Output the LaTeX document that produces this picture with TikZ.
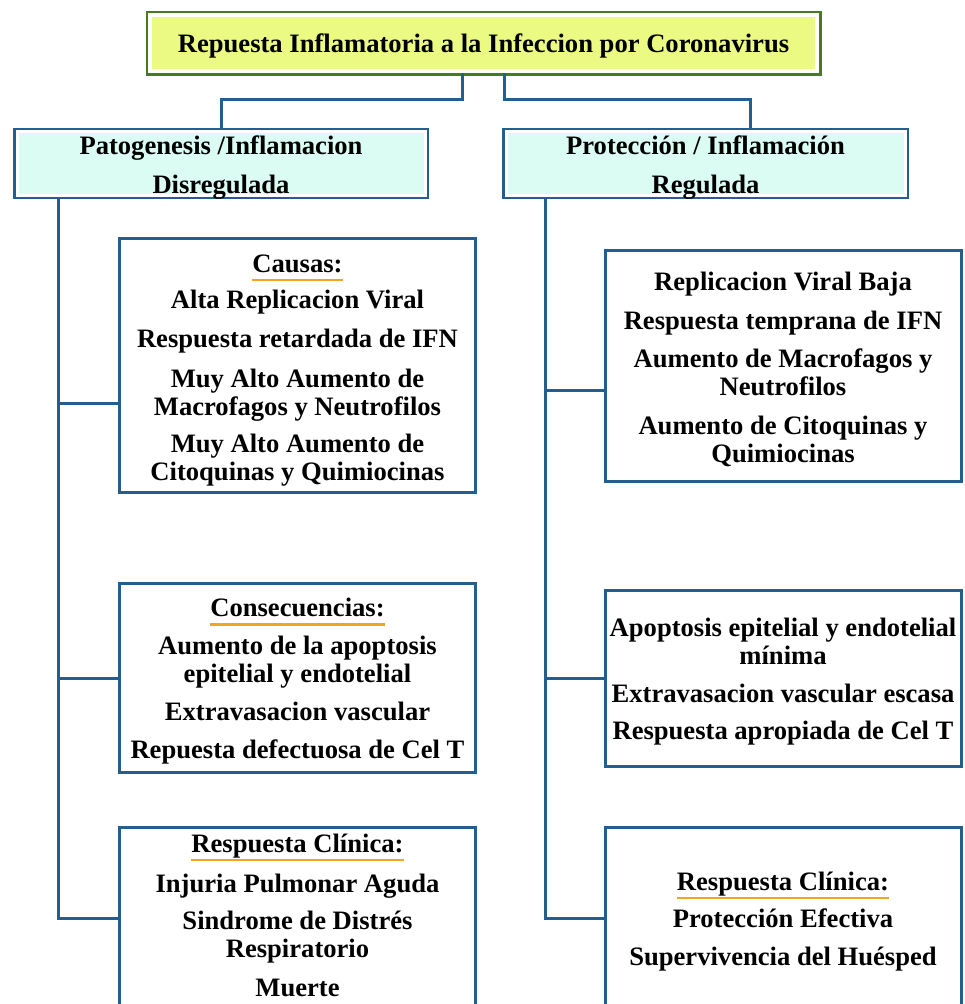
\documentclass[tikz,border=0pt]{standalone}
\usepackage{fontspec}
\setmainfont{Liberation Serif}
\definecolor{boxblue}{RGB}{36,94,142}
\definecolor{titlegreen}{RGB}{70,122,36}
\definecolor{titlefill}{RGB}{234,250,130}
\definecolor{headfill}{RGB}{218,252,242}
\definecolor{ulorange}{RGB}{245,163,35}
\newcommand{\ulhead}[1]{\setbox0\hbox{#1}\rlap{\color{ulorange}\rule[-9pt]{\wd0}{2.5pt}}\box0}
\newcommand{\topgap}[1]{\rule{0pt}{#1}}
\newcommand{\lowend}[1]{\rule[-#1]{0pt}{#1}}
\newcommand{\dn}[1]{\raisebox{-4pt}[\height][\depth]{#1}}
\tikzset{
  conn/.style={draw=boxblue, line width=3pt},
  titlebox/.style={preaction={draw=titlegreen, line width=9pt}, fill=titlefill,
    draw=white, line width=4pt, minimum width=667pt, minimum height=56pt,
    inner sep=0pt, font=\bfseries\fontsize{26.6}{28}\selectfont},
  headbox/.style={preaction={draw=boxblue, line width=8pt}, fill=headfill,
    draw=white, line width=3pt, minimum height=61pt, inner sep=0pt, align=center,
    font=\bfseries\fontsize{26.6}{39}\selectfont},
  infobox/.style={draw=boxblue, line width=3pt, fill=white, minimum width=356pt,
    inner sep=0pt, align=center, font=\bfseries\fontsize{26.6}{28}\selectfont}
}
\begin{document}
\begin{tikzpicture}[x=1pt,y=1pt]
\useasboundingbox (0,0) rectangle (965,-1004);
\clip (0,0) rectangle (965,-1004);

\node[titlebox] (title) at (483.5,-43) {\topgap{24pt}Repuesta Inflamatoria a la Infeccion por Coronavirus};

\node[headbox, minimum width=408pt] (pato) at (221,-163.5) {\dn{Patogenesis /Inflamacion}\\\dn{Disregulada}};
\node[headbox, minimum width=399pt] (prot) at (705.5,-163.5) {\dn{Protección / Inflamación}\\\dn{Regulada}};

% left column
\node[infobox, minimum height=254pt] (cau) at (297.5,-365.5)
  {\topgap{27pt}\ulhead{Causas:}\\[8pt] Alta Replicacion Viral\\[11pt] Respuesta retardada de IFN\\[12pt]
   Muy Alto Aumento de\\ Macrofagos y Neutrofilos\\[9pt] Muy Alto Aumento de\\ Citoquinas y Quimiocinas};
\node[infobox, minimum height=189pt] (cons) at (297.5,-678)
  {\topgap{25pt}\ulhead{Consecuencias:}\\[10pt] Aumento de la apoptosis\\ epitelial y endotelial\\[10pt]
   Extravasacion vascular\\[10pt] Repuesta defectuosa de Cel T};
\node[infobox, minimum height=182pt] (cli1) at (297.5,-918)
  {\ulhead{Respuesta Clínica:}\\[12pt] Injuria Pulmonar Aguda\\[9pt] Sindrome de Distrés\\ Respiratorio\\[11pt] Muerte\lowend{6pt}};

% right column
\node[infobox, minimum height=231pt] (rep) at (783,-366)
  {\topgap{25pt}Replicacion Viral Baja\\[11pt] Respuesta temprana de IFN\\[10pt] Aumento de Macrofagos y\\ Neutrofilos\\[11pt]
   Aumento de Citoquinas y\\ Quimiocinas};
\node[infobox, minimum height=176pt] (apo) at (783,-678.5)
  {\topgap{25pt}Apoptosis epitelial y endotelial\\ mínima\\[10pt] Extravasacion vascular escasa\\[9pt] Respuesta apropiada de Cel T};
\node[infobox, minimum height=182pt] (cli2) at (783,-918)
  {\topgap{25pt}\ulhead{Respuesta Clínica:}\\[9pt] Protección Efectiva\\[10pt] Supervivencia del Huésped};

% connectors
\draw[conn] ([xshift=-21pt]title.south) -- ++(0,-26pt) -| (pato.north);
\draw[conn] ([xshift=21pt]title.south) -- ++(0,-26pt) -| ([xshift=44.5pt]prot.north);

\coordinate (ltop) at ([xshift=43pt]pato.south west);
\coordinate (cauin) at ([yshift=-38pt]cau.west);
\draw[conn] (ltop) |- (cli1.west);
\draw[conn] (ltop |- cauin) -- (cauin);
\draw[conn] (ltop |- cons.west) -- (cons.west);

\coordinate (rtop) at ([xshift=41pt]prot.south west);
\coordinate (repin) at ([yshift=-24pt]rep.west);
\draw[conn] (rtop) |- (cli2.west);
\draw[conn] (rtop |- repin) -- (repin);
\draw[conn] (rtop |- apo.west) -- (apo.west);
\end{tikzpicture}
\end{document}
